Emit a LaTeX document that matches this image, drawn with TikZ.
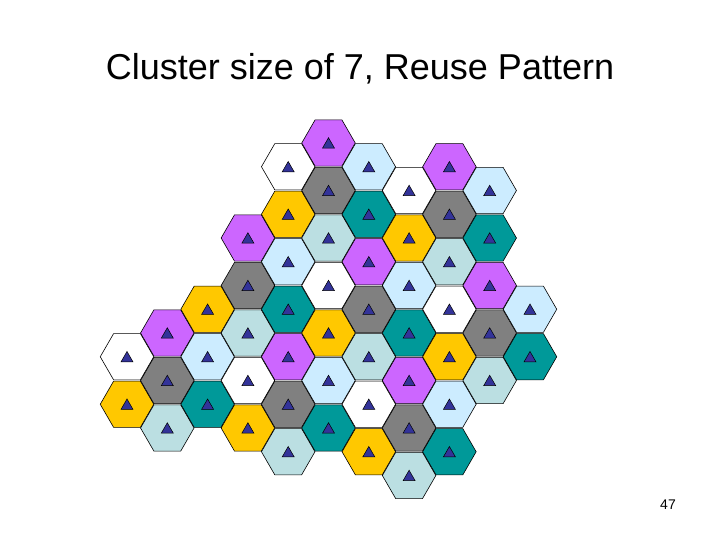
\documentclass[tikz,border=0pt]{standalone}
\usepackage{fontspec}
\setmainfont{Liberation Sans}
\usetikzlibrary{shapes.geometric}
\usepackage{xcolor}
\definecolor{reusepurple}{HTML}{CC66FF}
\definecolor{reusegray}{HTML}{808080}
\definecolor{reuseaqua}{HTML}{BBDFE2}
\definecolor{reusewhite}{HTML}{FFFFFF}
\definecolor{reuseyellow}{HTML}{FFC800}
\definecolor{reusesky}{HTML}{CCECFF}
\definecolor{reuseteal}{HTML}{009999}
\definecolor{bsblue}{HTML}{333399}
\tikzset{
  cell/.style={regular polygon, regular polygon sides=6, draw=black,
               line width=0.6pt, minimum size=53.5pt, inner sep=0pt},
  bstri/.style={regular polygon, regular polygon sides=3, draw=black,
                fill=bsblue, line width=0.5pt, minimum size=14pt, inner sep=0pt},
  slidetitle/.style={font=\fontsize{36}{40}\selectfont},
  pagenum/.style={font=\fontsize{14}{16}\selectfont},
}

\begin{document}
\begin{tikzpicture}[x=1pt, y=1pt]
  \useasboundingbox (0,0) rectangle (720,540);

  % --- Title ---
  \node[slidetitle] (title) at (360, 471) {Cluster size of 7, Reuse Pattern};

  % --- Cells with base stations (column / half-row / colour) ---
  \foreach \i/\k/\col in {
      0/9/reusewhite, 0/11/reuseyellow,
      1/8/reusepurple, 1/10/reusegray, 1/12/reuseaqua,
      2/7/reuseyellow, 2/9/reusesky, 2/11/reuseteal,
      3/4/reusepurple, 3/6/reusegray, 3/8/reuseaqua, 3/10/reusewhite, 3/12/reuseyellow,
      4/1/reusewhite, 4/3/reuseyellow, 4/5/reusesky, 4/7/reuseteal,
      4/9/reusepurple, 4/11/reusegray, 4/13/reuseaqua,
      5/0/reusepurple, 5/2/reusegray, 5/4/reuseaqua, 5/6/reusewhite,
      5/8/reuseyellow, 5/10/reusesky, 5/12/reuseteal,
      6/1/reusesky, 6/3/reuseteal, 6/5/reusepurple, 6/7/reusegray,
      6/9/reuseaqua, 6/11/reusewhite, 6/13/reuseyellow,
      7/2/reusewhite, 7/4/reuseyellow, 7/6/reusesky, 7/8/reuseteal,
      7/10/reusepurple, 7/12/reusegray, 7/14/reuseaqua,
      8/1/reusepurple, 8/3/reusegray, 8/5/reuseaqua, 8/7/reusewhite,
      8/9/reuseyellow, 8/11/reusesky, 8/13/reuseteal,
      9/2/reusesky, 9/4/reuseteal, 9/6/reusepurple, 9/8/reusegray, 9/10/reuseaqua,
      10/7/reusesky, 10/9/reuseteal}
  {
    \node[cell, fill=\col] (h\i-\k) at ({127+40.3*\i}, {397-23.75*\k}) {};
    \node[bstri] (b\i-\k) at ([yshift=-1.75pt]h\i-\k.center) {};
  }

  % --- Slide number ---
  \node[pagenum] (page) at (668, 35) {47};

\end{tikzpicture}
\end{document}
